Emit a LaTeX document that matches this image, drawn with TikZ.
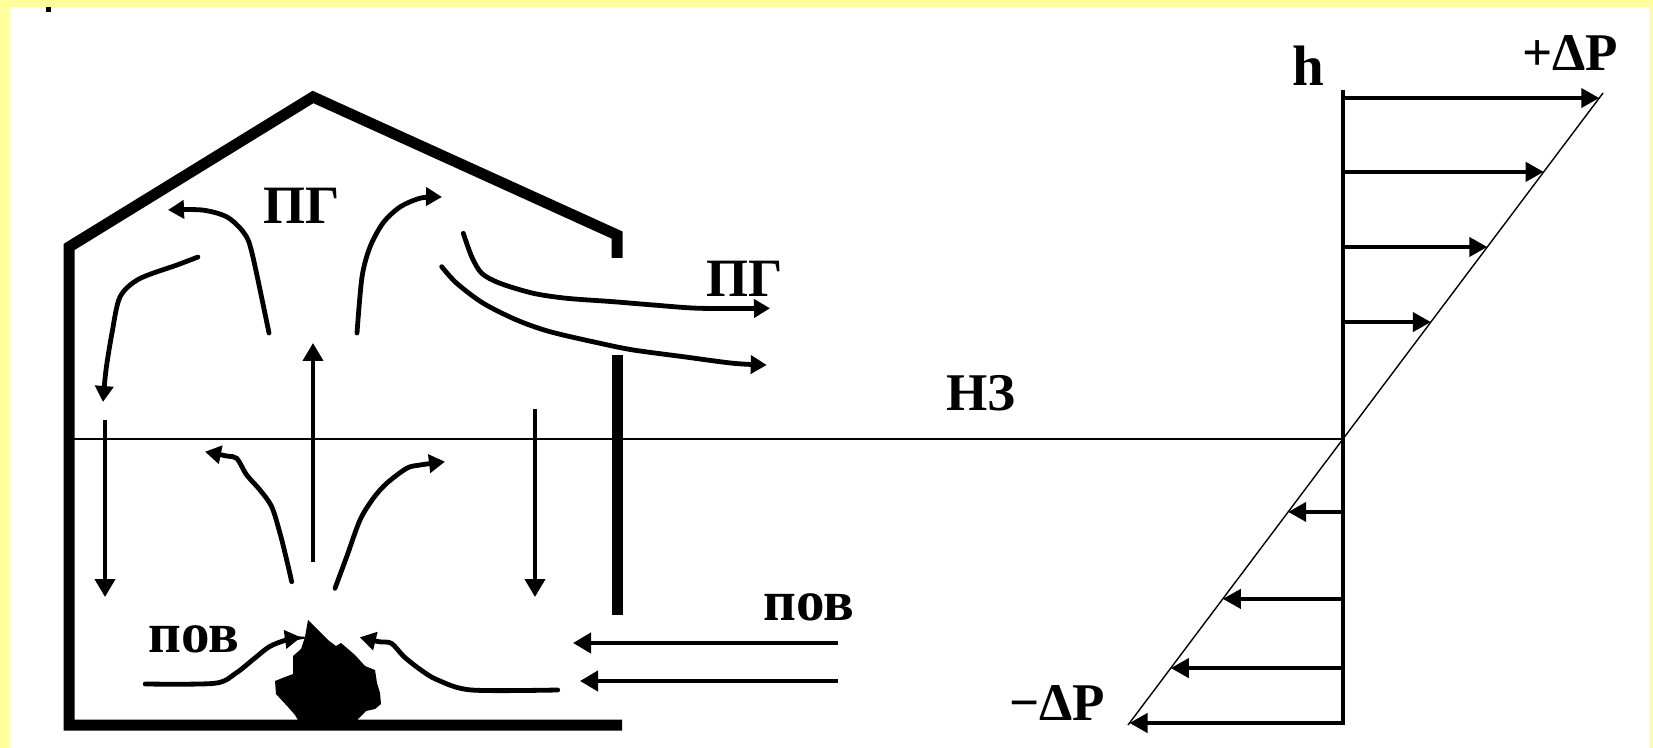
\documentclass[tikz,border=0pt]{standalone}
\usepackage{fontspec}
\setmainfont{Liberation Serif}
\usetikzlibrary{arrows.meta,calc}
\definecolor{paleyellow}{HTML}{FFFF99}

\begin{document}
\begin{tikzpicture}[x=0.5pt,y=-0.5pt,
  wall/.style={line width=5.5pt,line join=miter,line cap=butt},
  flow/.style={line width=2.4pt,line cap=round,-{Triangle[length=8pt,width=9pt]}},
  straight/.style={line width=2pt,-{Triangle[length=9pt,width=10pt]}},
  pres/.style={line width=2pt,-{Triangle[length=9pt,width=9.5pt]}},
  lbl/.style={inner sep=0pt,font=\fontsize{27}{29}\selectfont\bfseries},
  blbl/.style={inner sep=0pt,font=\fontsize{28.5}{30}\selectfont\bfseries},
  mlbl/.style={inner sep=0pt,font=\fontsize{26.5}{28}\selectfont\bfseries}]

% background and frame
\fill[paleyellow] (0,0) rectangle (1653,748);
\fill[white] (9,7) rectangle (1650,748);
\useasboundingbox (0,0) rectangle (1653,748);
\fill[black] (46,7) rectangle (51,12);

% building outline
\coordinate (eaveL) at (69,247);
\coordinate (apex) at (313,97);
\coordinate (eaveR) at (617,235);
\coordinate (floorL) at (69,725);
\coordinate (floorR) at (622,725);
\draw[wall] (617,258) -- (eaveR) -- (apex) -- (eaveL) -- (floorL) -- (floorR);
\draw[wall] (617,355) -- (617,615);

% neutral zone line and pressure axis
\coordinate (zero) at (1343,439);
\coordinate (axtop) at (1343,90);
\coordinate (axbot) at (1343,725);
\draw[line width=1.3pt] (69,439) -- (zero);
\draw[line width=2pt] (axtop) -- (axbot);

% pressure profile
\coordinate (ptop) at (1603,93);
\coordinate (pbot) at (1128,725);
\draw[line width=0.7pt] (ptop) -- (pbot);
\foreach \t in {0.9855,0.772,0.555,0.338}{
  \coordinate (p) at ($(zero)!\t!(ptop)$);
  \draw[pres] (axtop |- p) -- (p);
}
\foreach \t in {0.255,0.559,0.801,0.993}{
  \coordinate (p) at ($(zero)!\t!(pbot)$);
  \draw[pres] (axtop |- p) -- (p);
}

% fire
\fill[black] (308,620) -- (318,630) -- (328,640) -- (336,646) -- (341,643)
  -- (355,655) -- (365,666) -- (375,670) -- (377,683) -- (380,693)
  -- (381,704) -- (375,709) -- (366,711) -- (358,719) -- (357,722)
  -- (299,722) -- (295,715) -- (288,707) -- (276,694) -- (275,681)
  -- (285,677) -- (293,674) -- (293,656) -- (301,649) -- (305,637) -- cycle;

% upper circulation
\draw[flow] plot[smooth] coordinates {(198,257) (177,265) (139,279) (120,297) (112,333) (106,370) (103,402)};
\draw[flow] plot[smooth] coordinates {(269,333) (252,253) (244,233) (227,217) (202,210) (168,210)};
\draw[flow] plot[smooth] coordinates {(357,333) (362,277) (370,247) (383,223) (400,207) (421,198) (442,197)};
\draw[flow] plot[smooth] coordinates {(463.3,233.3) (471.7,256.7) (481.7,273.3) (500,283.3) (533.3,293.3) (566.7,298.3) (613.3,301.7) (653.3,305) (700,308.3) (770,308.3)};
\draw[flow] plot[smooth] coordinates {(441.7,266.7) (456.7,283.3) (483.3,303.3) (516.7,320) (550,331.7) (600,343.3) (633.3,350) (683.3,356.7) (733.3,363.3) (766.7,365)};

% rising plume and descending flows
\coordinate (plumeB) at (313,562);
\coordinate (plumeT) at (313,343);
\draw[straight] (plumeB) -- (plumeT);
\draw[straight] (105,420) -- (105,597);
\draw[straight] (535,409) -- (535,597);

% lower circulation
\draw[flow] plot[smooth] coordinates {(291.7,581.7) (286.7,560) (280,533.3) (271.7,506.7) (260,490) (246.7,475) (236.7,458.3) (226.7,456) (205,451.7)};
\draw[flow] plot[smooth] coordinates {(335,588.3) (346.7,556.7) (360,520) (373.3,498.3) (386.7,483.3) (406.7,468.3) (420,465) (445,461.7)};
\draw[flow] plot[smooth] coordinates {(145.2,684) (214.6,683.3) (235.7,673.3) (252.5,660) (269.4,646.7) (286.2,640) (300.9,637.3)};
\draw[flow] plot[smooth] coordinates {(557.7,690) (471.4,690) (437.7,680) (420.9,670) (404,656.7) (391.4,643.3) (378.8,641.7) (359.8,637.3)};

% outside air inflow
\draw[straight] (838,643) -- (573,643);
\draw[straight] (838,681) -- (580,681);

% labels
\node[lbl] (pgin) at (302,206) {ПГ};
\node[lbl] (pgout) at (745,279) {ПГ};
\node[blbl] (povin) at (194,639) {пов};
\node[blbl] (povout) at (809,607) {пов};
\node[mlbl] (nz) at (981,393) {НЗ};
\node[blbl] (h) at (1308,66) {h};
\node[mlbl] (dpplus) at (1570,53) {+ΔP};
\node[mlbl] (dpminus) at (1057,703) {−ΔP};
\end{tikzpicture}
\end{document}
